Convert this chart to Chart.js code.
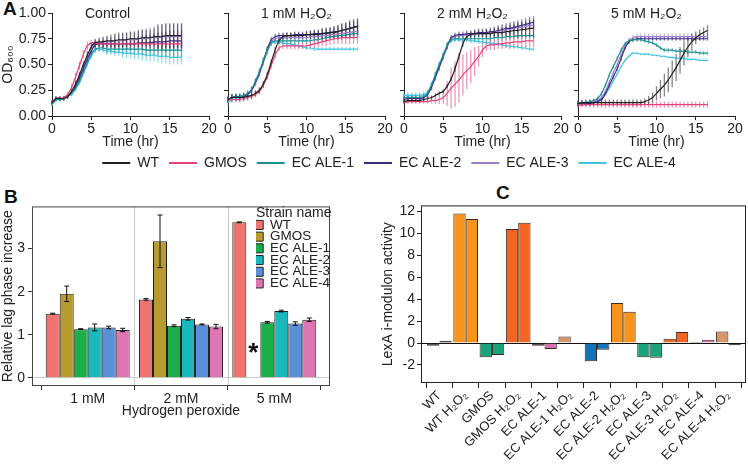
<!DOCTYPE html>
<html>
<head>
<meta charset="utf-8">
<script src="https://cdn.jsdelivr.net/npm/chart.js@4.4.1/dist/chart.umd.min.js"></script>
<style>
  body { margin: 0; background: #fff; }
  #fig { position: relative; width: 748px; height: 474px; overflow: hidden; background: #fff; font-family: "Liberation Sans", Arial, sans-serif; }
  #fig canvas { position: absolute; }
  .tag { position: absolute; font-weight: bold; font-size: 19px; color: #111; }
</style>
</head>
<body>
<div id="fig">
  <div class="tag" style="left:3px;top:-2px">A</div>
  <div class="tag" style="left:4px;top:186px">B</div>
  <div class="tag" style="left:496px;top:182px">C</div>
  <canvas id="a1" style="left:0px;top:0px" width="218" height="152"></canvas>
  <canvas id="a2" style="left:222px;top:0px" width="172" height="152"></canvas>
  <canvas id="a3" style="left:398px;top:0px" width="172" height="152"></canvas>
  <canvas id="a4" style="left:572px;top:0px" width="176" height="152"></canvas>
  <canvas id="aleg" style="left:30px;top:146px" width="718" height="70"></canvas>
  <canvas id="bchart" style="left:0px;top:195px" width="345" height="225"></canvas>
  <canvas id="cchart" style="left:380px;top:195px" width="368" height="279"></canvas>
  <canvas id="bleg" style="left:256px;top:206px" width="80" height="200"></canvas>
</div>
<script>
// ---------- panel A: growth curves (OD600 vs time) ----------
const strains = ['WT', 'GMOS', 'EC ALE-1', 'EC ALE-2', 'EC ALE-3', 'EC ALE-4'];
const strainColors = ['#231f20', '#e6427a', '#1b8f8f', '#3d2b82', '#9b7fcb', '#3ec3e3'];
const errColors = ['rgba(35,31,32,0.55)', 'rgba(230,66,122,0.55)', 'rgba(27,143,143,0.55)',
                   'rgba(61,43,130,0.55)', 'rgba(155,127,203,0.55)', 'rgba(62,195,227,0.55)'];

const hours = [0,0.5,1,1.5,2,2.5,3,3.5,4,4.5,5,5.5,6,6.5,7,7.5,8,8.5,9,9.5,10,10.5,11,11.5,12,12.5,13,13.5,14,14.5,15,15.5,16,16.5];

// Control
const ctrlWT     = [0.13,0.17,0.17,0.17,0.19,0.24,0.31,0.40,0.50,0.59,0.67,0.71,0.72,0.72,0.73,0.73,0.73,0.74,0.74,0.74,0.75,0.75,0.75,0.76,0.76,0.76,0.77,0.77,0.77,0.78,0.78,0.78,0.78,0.78];
const ctrlWTerr  = [0.02,0.02,0.02,0.02,0.02,0.02,0.03,0.03,0.03,0.04,0.04,0.04,0.04,0.05,0.05,0.06,0.07,0.07,0.07,0.07,0.07,0.07,0.08,0.08,0.08,0.08,0.08,0.12,0.12,0.12,0.12,0.12,0.12,0.12];
const ctrlGMOS   = [0.13,0.17,0.17,0.18,0.21,0.28,0.38,0.49,0.60,0.68,0.71,0.71,0.70,0.70,0.70,0.70,0.70,0.70,0.70,0.70,0.70,0.70,0.70,0.70,0.70,0.70,0.70,0.70,0.70,0.70,0.70,0.70,0.70,0.70];
const ctrlGMOSerr = [0.02,0.02,0.02,0.02,0.02,0.03,0.04,0.04,0.04,0.04,0.03,0.03,0.03,0.03,0.03,0.03,0.03,0.03,0.03,0.03,0.03,0.03,0.03,0.03,0.03,0.03,0.03,0.03,0.03,0.03,0.03,0.03,0.03,0.03];
const ctrlALE1   = [0.12,0.16,0.16,0.17,0.19,0.22,0.27,0.34,0.43,0.52,0.60,0.65,0.66,0.66,0.65,0.65,0.65,0.65,0.65,0.65,0.65,0.65,0.65,0.65,0.64,0.64,0.64,0.64,0.64,0.64,0.64,0.64,0.64,0.64];
const ctrlALE1err = [0.02,0.02,0.02,0.02,0.02,0.02,0.02,0.02,0.02,0.02,0.03,0.03,0.03,0.03,0.04,0.04,0.04,0.04,0.05,0.05,0.05,0.05,0.05,0.06,0.06,0.06,0.06,0.06,0.07,0.07,0.07,0.07,0.07,0.07];
const ctrlALE2   = [0.13,0.17,0.17,0.17,0.19,0.23,0.29,0.37,0.46,0.55,0.63,0.69,0.70,0.70,0.70,0.70,0.70,0.70,0.70,0.70,0.70,0.70,0.71,0.71,0.71,0.71,0.72,0.72,0.72,0.72,0.73,0.73,0.73,0.73];
const ctrlALE2err = [0.02,0.02,0.02,0.02,0.02,0.02,0.03,0.03,0.03,0.03,0.03,0.03,0.03,0.04,0.04,0.04,0.05,0.05,0.05,0.06,0.06,0.06,0.07,0.07,0.08,0.08,0.08,0.09,0.09,0.10,0.10,0.10,0.10,0.10];
const ctrlALE3   = [0.13,0.17,0.17,0.17,0.19,0.23,0.30,0.38,0.47,0.56,0.64,0.70,0.71,0.72,0.72,0.72,0.73,0.73,0.73,0.74,0.74,0.74,0.75,0.75,0.75,0.76,0.76,0.76,0.77,0.77,0.77,0.77,0.77,0.77];
const ctrlALE3err = [0.02,0.02,0.02,0.02,0.02,0.02,0.03,0.03,0.03,0.03,0.03,0.03,0.04,0.04,0.05,0.05,0.06,0.06,0.07,0.07,0.08,0.08,0.09,0.09,0.10,0.10,0.11,0.11,0.12,0.12,0.12,0.12,0.12,0.12];
const ctrlALE4   = [0.11,0.15,0.16,0.17,0.19,0.21,0.26,0.32,0.41,0.50,0.58,0.64,0.65,0.64,0.63,0.63,0.62,0.62,0.61,0.61,0.61,0.60,0.60,0.60,0.59,0.59,0.59,0.58,0.58,0.58,0.57,0.57,0.57,0.57];
const ctrlALE4err = [0.02,0.02,0.02,0.02,0.02,0.02,0.02,0.02,0.02,0.02,0.03,0.03,0.03,0.03,0.04,0.04,0.04,0.04,0.05,0.05,0.05,0.05,0.05,0.06,0.06,0.06,0.06,0.06,0.07,0.07,0.07,0.07,0.07,0.07];

// 1 mM H2O2
const mm1WT     = [0.16,0.18,0.18,0.18,0.18,0.19,0.20,0.22,0.25,0.31,0.40,0.52,0.64,0.73,0.77,0.78,0.78,0.78,0.78,0.78,0.79,0.79,0.79,0.79,0.80,0.80,0.81,0.81,0.82,0.83,0.84,0.85,0.86,0.87];
const mm1WTerr  = [0.03,0.03,0.03,0.03,0.03,0.03,0.03,0.03,0.03,0.03,0.03,0.03,0.03,0.03,0.03,0.03,0.03,0.03,0.03,0.03,0.03,0.04,0.04,0.04,0.05,0.05,0.05,0.06,0.06,0.07,0.07,0.08,0.08,0.08];
const mm1GMOS   = [0.15,0.16,0.16,0.16,0.17,0.18,0.19,0.21,0.24,0.30,0.38,0.49,0.59,0.66,0.68,0.68,0.68,0.68,0.68,0.68,0.68,0.69,0.70,0.71,0.72,0.73,0.74,0.75,0.75,0.76,0.76,0.76,0.76,0.76];
const mm1GMOSerr = [0.03,0.03,0.03,0.03,0.03,0.03,0.03,0.03,0.03,0.03,0.03,0.03,0.03,0.03,0.03,0.03,0.03,0.03,0.03,0.03,0.03,0.03,0.04,0.04,0.04,0.05,0.05,0.05,0.05,0.06,0.06,0.06,0.06,0.06];
const mm1ALE1   = [0.16,0.18,0.19,0.19,0.20,0.22,0.26,0.34,0.43,0.54,0.64,0.71,0.73,0.73,0.73,0.73,0.73,0.73,0.73,0.73,0.73,0.73,0.74,0.74,0.75,0.76,0.77,0.77,0.78,0.78,0.79,0.79,0.80,0.80];
const mm1ALE1err = [0.03,0.03,0.03,0.03,0.03,0.03,0.03,0.03,0.03,0.03,0.03,0.03,0.03,0.03,0.03,0.03,0.03,0.03,0.03,0.03,0.03,0.03,0.03,0.03,0.03,0.03,0.03,0.03,0.03,0.03,0.03,0.03,0.03,0.03];
const mm1ALE2   = [0.16,0.18,0.18,0.18,0.19,0.21,0.25,0.33,0.42,0.53,0.65,0.74,0.77,0.78,0.78,0.78,0.78,0.79,0.79,0.79,0.79,0.79,0.80,0.80,0.80,0.81,0.81,0.82,0.82,0.83,0.84,0.85,0.86,0.87];
const mm1ALE2err = [0.03,0.03,0.03,0.03,0.03,0.03,0.03,0.03,0.03,0.03,0.03,0.03,0.03,0.03,0.03,0.03,0.03,0.03,0.03,0.03,0.04,0.04,0.04,0.04,0.05,0.05,0.05,0.05,0.06,0.06,0.06,0.06,0.06,0.06];
const mm1ALE3   = [0.16,0.18,0.18,0.18,0.19,0.21,0.25,0.32,0.41,0.52,0.63,0.72,0.75,0.76,0.76,0.76,0.76,0.76,0.76,0.76,0.76,0.77,0.77,0.77,0.78,0.78,0.79,0.79,0.80,0.80,0.81,0.81,0.82,0.82];
const mm1ALE3err = [0.03,0.03,0.03,0.03,0.03,0.03,0.03,0.03,0.03,0.03,0.03,0.03,0.03,0.03,0.03,0.03,0.03,0.03,0.03,0.03,0.04,0.04,0.04,0.04,0.05,0.05,0.05,0.05,0.06,0.06,0.06,0.06,0.06,0.06];
const mm1ALE4   = [0.13,0.16,0.17,0.18,0.19,0.21,0.25,0.32,0.41,0.52,0.62,0.70,0.72,0.72,0.71,0.70,0.70,0.69,0.68,0.67,0.66,0.66,0.65,0.65,0.65,0.65,0.65,0.65,0.65,0.65,0.65,0.65,0.65,0.65];
const mm1ALE4err = [0.03,0.03,0.03,0.03,0.02,0.02,0.02,0.02,0.02,0.02,0.02,0.02,0.02,0.02,0.02,0.02,0.02,0.02,0.02,0.02,0.02,0.02,0.02,0.02,0.02,0.02,0.02,0.02,0.02,0.02,0.02,0.02,0.02,0.02];

// 2 mM H2O2
const mm2WT     = [0.14,0.15,0.15,0.15,0.15,0.16,0.17,0.18,0.20,0.22,0.24,0.29,0.36,0.46,0.58,0.70,0.77,0.79,0.80,0.80,0.80,0.80,0.80,0.81,0.81,0.81,0.82,0.82,0.83,0.83,0.84,0.84,0.85,0.85];
const mm2WTerr  = [0.02,0.02,0.02,0.02,0.02,0.02,0.02,0.02,0.02,0.02,0.02,0.02,0.02,0.03,0.03,0.03,0.03,0.03,0.03,0.03,0.03,0.04,0.04,0.04,0.05,0.05,0.05,0.06,0.06,0.07,0.07,0.07,0.08,0.08];
const mm2GMOS   = [0.13,0.14,0.14,0.14,0.14,0.14,0.14,0.15,0.15,0.16,0.18,0.22,0.27,0.31,0.35,0.40,0.44,0.48,0.53,0.58,0.64,0.68,0.69,0.69,0.70,0.70,0.71,0.71,0.72,0.72,0.72,0.73,0.73,0.73];
const mm2GMOSerr = [0.02,0.02,0.02,0.02,0.02,0.02,0.02,0.03,0.03,0.04,0.06,0.12,0.20,0.22,0.22,0.20,0.18,0.16,0.14,0.10,0.07,0.05,0.05,0.05,0.05,0.05,0.05,0.06,0.06,0.06,0.06,0.06,0.06,0.06];
const mm2ALE1   = [0.18,0.18,0.18,0.18,0.18,0.19,0.22,0.30,0.40,0.50,0.59,0.69,0.74,0.75,0.75,0.75,0.75,0.75,0.75,0.75,0.75,0.75,0.75,0.76,0.76,0.76,0.77,0.77,0.77,0.78,0.78,0.78,0.78,0.78];
const mm2ALE1err = [0.03,0.03,0.03,0.03,0.03,0.03,0.03,0.03,0.03,0.03,0.03,0.03,0.03,0.03,0.03,0.03,0.03,0.03,0.03,0.03,0.03,0.03,0.03,0.03,0.03,0.03,0.03,0.03,0.03,0.03,0.03,0.03,0.03,0.03];
const mm2ALE2   = [0.16,0.17,0.17,0.17,0.17,0.18,0.21,0.28,0.38,0.48,0.58,0.68,0.76,0.78,0.79,0.79,0.80,0.80,0.80,0.81,0.81,0.81,0.82,0.82,0.83,0.84,0.85,0.85,0.86,0.87,0.88,0.89,0.90,0.91];
const mm2ALE2err = [0.03,0.03,0.03,0.03,0.03,0.03,0.03,0.03,0.03,0.03,0.03,0.03,0.03,0.03,0.03,0.03,0.03,0.03,0.04,0.04,0.04,0.04,0.04,0.05,0.05,0.05,0.05,0.06,0.06,0.06,0.06,0.06,0.06,0.06];
const mm2ALE3   = [0.16,0.17,0.17,0.17,0.17,0.18,0.21,0.28,0.37,0.47,0.57,0.67,0.75,0.77,0.78,0.78,0.79,0.79,0.79,0.80,0.80,0.80,0.81,0.81,0.82,0.83,0.83,0.84,0.85,0.86,0.86,0.87,0.88,0.88];
const mm2ALE3err = [0.03,0.03,0.03,0.03,0.03,0.03,0.03,0.03,0.03,0.03,0.03,0.03,0.03,0.03,0.03,0.03,0.03,0.03,0.04,0.04,0.04,0.04,0.04,0.05,0.05,0.05,0.05,0.06,0.06,0.06,0.06,0.06,0.06,0.06];
const mm2ALE4   = [0.20,0.20,0.20,0.20,0.20,0.21,0.23,0.30,0.40,0.50,0.59,0.68,0.73,0.74,0.74,0.74,0.74,0.73,0.73,0.72,0.72,0.71,0.71,0.70,0.70,0.69,0.68,0.68,0.67,0.67,0.66,0.66,0.65,0.65];
const mm2ALE4err = [0.03,0.03,0.03,0.03,0.03,0.03,0.03,0.03,0.03,0.03,0.02,0.02,0.02,0.02,0.02,0.02,0.02,0.02,0.02,0.02,0.02,0.02,0.02,0.02,0.02,0.02,0.02,0.02,0.02,0.02,0.02,0.02,0.02,0.02];

// 5 mM H2O2
const mm5WT     = [0.12,0.13,0.13,0.13,0.13,0.13,0.13,0.13,0.13,0.13,0.13,0.13,0.13,0.13,0.13,0.13,0.13,0.14,0.155,0.18,0.22,0.26,0.30,0.35,0.41,0.47,0.54,0.61,0.67,0.72,0.76,0.79,0.81,0.83];
const mm5WTerr  = [0.03,0.03,0.03,0.03,0.03,0.03,0.03,0.03,0.03,0.03,0.03,0.03,0.03,0.03,0.03,0.03,0.03,0.03,0.04,0.05,0.07,0.09,0.11,0.12,0.13,0.13,0.13,0.12,0.10,0.08,0.06,0.05,0.05,0.05];
const mm5GMOS   = [0.10,0.11,0.11,0.11,0.11,0.11,0.11,0.11,0.11,0.11,0.11,0.11,0.11,0.11,0.11,0.11,0.11,0.11,0.11,0.11,0.11,0.11,0.11,0.11,0.11,0.11,0.11,0.11,0.11,0.11,0.11,0.11,0.11,0.11];
const mm5GMOSerr = [0.03,0.03,0.03,0.03,0.03,0.03,0.03,0.03,0.03,0.03,0.03,0.03,0.03,0.03,0.03,0.03,0.03,0.03,0.03,0.03,0.03,0.03,0.03,0.03,0.03,0.03,0.03,0.03,0.03,0.03,0.03,0.03,0.03,0.03];
const mm5ALE1   = [0.13,0.13,0.13,0.14,0.15,0.17,0.22,0.30,0.40,0.48,0.56,0.64,0.70,0.73,0.74,0.74,0.74,0.73,0.72,0.71,0.69,0.66,0.64,0.64,0.64,0.63,0.63,0.63,0.62,0.62,0.62,0.61,0.61,0.61];
const mm5ALE1err = [0.02,0.02,0.02,0.02,0.02,0.02,0.02,0.02,0.02,0.02,0.02,0.02,0.02,0.02,0.02,0.02,0.02,0.02,0.02,0.02,0.02,0.02,0.02,0.02,0.02,0.02,0.02,0.02,0.02,0.02,0.02,0.02,0.02,0.02];
const mm5ALE2   = [0.12,0.12,0.12,0.12,0.13,0.14,0.16,0.22,0.30,0.38,0.46,0.56,0.66,0.72,0.74,0.75,0.75,0.75,0.75,0.75,0.75,0.75,0.75,0.75,0.75,0.75,0.75,0.75,0.75,0.75,0.75,0.75,0.75,0.75];
const mm5ALE2err = [0.02,0.02,0.02,0.02,0.02,0.02,0.02,0.02,0.02,0.02,0.02,0.02,0.02,0.02,0.02,0.02,0.02,0.02,0.02,0.02,0.02,0.02,0.02,0.02,0.02,0.02,0.02,0.02,0.02,0.02,0.02,0.02,0.02,0.02];
const mm5ALE3   = [0.12,0.12,0.12,0.13,0.14,0.15,0.18,0.24,0.33,0.42,0.50,0.60,0.68,0.73,0.76,0.77,0.77,0.77,0.77,0.77,0.77,0.77,0.77,0.77,0.77,0.77,0.77,0.77,0.77,0.77,0.77,0.77,0.77,0.77];
const mm5ALE3err = [0.02,0.02,0.02,0.02,0.02,0.02,0.02,0.02,0.02,0.02,0.03,0.03,0.03,0.03,0.03,0.03,0.03,0.03,0.03,0.03,0.03,0.03,0.03,0.03,0.03,0.03,0.03,0.03,0.03,0.03,0.03,0.03,0.03,0.03];
const mm5ALE4   = [0.12,0.12,0.12,0.13,0.14,0.15,0.17,0.21,0.27,0.34,0.41,0.48,0.54,0.58,0.61,0.61,0.60,0.60,0.60,0.59,0.59,0.58,0.58,0.57,0.57,0.56,0.56,0.56,0.55,0.55,0.55,0.54,0.54,0.54];
const mm5ALE4err = [0.01,0.01,0.01,0.01,0.01,0.01,0.01,0.01,0.01,0.01,0.01,0.01,0.01,0.01,0.01,0.01,0.01,0.01,0.01,0.01,0.01,0.01,0.01,0.01,0.01,0.01,0.01,0.01,0.01,0.01,0.01,0.01,0.01,0.01];

// ---------- panel B: relative lag phase increase ----------
const doses = ['1 mM', '2 mM', '5 mM'];
const lagWT    = [1.49, 1.82, 3.61];
const lagGMOS  = [1.95, 3.17, 0];
const lagALE1  = [1.13, 1.21, 1.29];
const lagALE2  = [1.17, 1.37, 1.55];
const lagALE3  = [1.17, 1.24, 1.26];
const lagALE4  = [1.11, 1.19, 1.35];
const lagErrWT   = [0.01, 0.02, 0.01];
const lagErrGMOS = [0.18, 0.61, 0];
const lagErrALE1 = [0.01, 0.02, 0.02];
const lagErrALE2 = [0.08, 0.03, 0.02];
const lagErrALE3 = [0.03, 0.01, 0.04];
const lagErrALE4 = [0.04, 0.05, 0.04];
const lagColors = ['#ee7471', '#b89b2e', '#1bae4b', '#19b8bd', '#5a8fd8', '#de76b4'];

// ---------- panel C: LexA i-modulon activity ----------
const samples = ['WT', 'WT H₂O₂', 'GMOS', 'GMOS H₂O₂', 'EC ALE-1', 'EC ALE-1 H₂O₂',
                 'EC ALE-2', 'EC ALE-2 H₂O₂', 'EC ALE-3', 'EC ALE-3 H₂O₂', 'EC ALE-4', 'EC ALE-4 H₂O₂'];
const lexaRep1 = [-0.25, 11.8, -1.3, 10.4, -0.25, 0.6, -1.65, 3.65, -1.3, 0.4, 0.1, 1.05];
const lexaRep2 = [0.2, 11.3, -1.1, 10.95, -0.55, 0.02, -0.6, 2.85, -1.35, 1.0, 0.3, -0.2];
const lexaColors1 = ['#1f3d48', '#f7941d', '#1aa37a', '#f26522', '#3a2a3a', '#d4956a',
                     '#1672b8', '#f7941d', '#1aa37a', '#f26522', '#111111', '#d4956a'];
const lexaColors2 = ['#111111', '#f7941d', '#1aa37a', '#f26522', '#d86fb2', '#d4956a',
                     '#1672b8', '#f7941d', '#1aa37a', '#f26522', '#d86fb2', '#111111'];

const FONT = '"Liberation Sans", Arial, sans-serif';
Chart.defaults.font.family = FONT;
Chart.defaults.color = '#222';
Chart.defaults.animation = false;

// vertical error bars for the growth curves
const curveErrors = {
  id: 'curveErrors',
  beforeDatasetsDraw(chart) {
    const { ctx, scales: { x, y } } = chart;
    ctx.save();
    for (let i = chart.data.datasets.length - 1; i >= 0; i--) {
      const ds = chart.data.datasets[i];
      ctx.strokeStyle = ds.errColor;
      ctx.lineWidth = 1.3;
      ds.data.forEach((p, j) => {
        const px = x.getPixelForValue(p.x);
        ctx.beginPath();
        ctx.moveTo(px, y.getPixelForValue(p.y - ds.err[j]));
        ctx.lineTo(px, y.getPixelForValue(p.y + ds.err[j]));
        ctx.stroke();
      });
    }
    ctx.restore();
  }
};

// panel title drawn at the top of the plot
const panelTitle = {
  id: 'panelTitle',
  afterDraw(chart, args, opts) {
    const { ctx, chartArea } = chart;
    ctx.save();
    ctx.font = '14px ' + FONT;
    ctx.fillStyle = '#222';
    ctx.textBaseline = 'middle';
    ctx.fillText(opts.text, chartArea.left + 33, chartArea.top + 1);
    ctx.restore();
  }
};

function makeCurves(id, title, series, errs, first, padRight) {
  const datasets = series.map((vals, i) => ({
    label: strains[i],
    data: hours.map((h, j) => ({ x: h, y: vals[j] })),
    err: errs[i],
    errColor: errColors[i],
    borderColor: strainColors[i],
    borderWidth: 1.2,
    pointRadius: 0,
    tension: 0.2,
    fill: false
  }));
  return new Chart(document.getElementById(id), {
    type: 'line',
    data: { datasets },
    plugins: [curveErrors, panelTitle],
    options: {
      responsive: false,
      layout: { padding: { top: 13, right: padRight, left: 0, bottom: 0 } },
      scales: {
        x: {
          type: 'linear', min: 0, max: 20,
          afterFit: s => { s.height = 36; },
          ticks: { stepSize: 5, font: { size: 14 }, padding: 1, color: '#222' },
          grid: { drawOnChartArea: false, tickLength: 4, color: '#222' },
          border: { color: '#222', width: 1 },
          title: { display: true, text: 'Time (hr)', font: { size: 14 }, padding: { top: 0, bottom: 1 }, color: '#222' }
        },
        y: {
          min: 0, max: 1,
          afterFit: s => { s.width = first ? 52 : 6; },
          ticks: { stepSize: 0.25, display: first, font: { size: 14 }, padding: 2, color: '#222',
                   callback: v => v.toFixed(2) },
          grid: { drawOnChartArea: false, tickLength: 4, color: '#222' },
          border: { color: '#222', width: 1 },
          title: { display: first, text: 'OD₆₀₀', font: { size: 14 }, padding: 0, color: '#222' }
        }
      },
      plugins: {
        legend: { display: false },
        tooltip: { enabled: false },
        panelTitle: { text: title }
      }
    }
  });
}

makeCurves('a1', 'Control',
  [ctrlWT, ctrlGMOS, ctrlALE1, ctrlALE2, ctrlALE3, ctrlALE4],
  [ctrlWTerr, ctrlGMOSerr, ctrlALE1err, ctrlALE2err, ctrlALE3err, ctrlALE4err], true, 9);
makeCurves('a2', '1 mM H₂O₂',
  [mm1WT, mm1GMOS, mm1ALE1, mm1ALE2, mm1ALE3, mm1ALE4],
  [mm1WTerr, mm1GMOSerr, mm1ALE1err, mm1ALE2err, mm1ALE3err, mm1ALE4err], false, 9);
makeCurves('a3', '2 mM H₂O₂',
  [mm2WT, mm2GMOS, mm2ALE1, mm2ALE2, mm2ALE3, mm2ALE4],
  [mm2WTerr, mm2GMOSerr, mm2ALE1err, mm2ALE2err, mm2ALE3err, mm2ALE4err], false, 9);
makeCurves('a4', '5 mM H₂O₂',
  [mm5WT, mm5GMOS, mm5ALE1, mm5ALE2, mm5ALE3, mm5ALE4],
  [mm5WTerr, mm5GMOSerr, mm5ALE1err, mm5ALE2err, mm5ALE3err, mm5ALE4err], false, 13);

// shared legend for panel A (canvas kept twice the legend height so it is not squeezed)
new Chart(document.getElementById('aleg'), {
  type: 'line',
  data: { datasets: strains.map((s, i) => ({ label: s, data: [], borderColor: strainColors[i], borderWidth: 2, pointStyle: 'line' })) },
  options: {
    responsive: false,
    layout: { padding: 0 },
    scales: { x: { display: false }, y: { display: false } },
    plugins: {
      tooltip: { enabled: false },
      legend: {
        position: 'top',
        labels: { usePointStyle: true, pointStyleWidth: 28, boxHeight: 2, padding: 10, font: { size: 14 }, color: '#222' }
      }
    }
  }
});

// ---------- panel B ----------
const lagSets = [lagWT, lagGMOS, lagALE1, lagALE2, lagALE3, lagALE4];
const lagErrs = [lagErrWT, lagErrGMOS, lagErrALE1, lagErrALE2, lagErrALE3, lagErrALE4];

const facetLines = {
  id: 'facetLines',
  beforeDatasetsDraw(chart) {
    const { ctx, chartArea: a, scales: { x } } = chart;
    ctx.save();
    ctx.strokeStyle = '#c8c8c8';
    ctx.lineWidth = 1;
    [1.5, 2.5].forEach(v => {
      const px = Math.round(x.getPixelForValue(v)) + 0.5;
      ctx.beginPath();
      ctx.moveTo(px, a.top);
      ctx.lineTo(px, a.bottom);
      ctx.stroke();
    });
    ctx.restore();
  }
};

const barErrors = {
  id: 'barErrors',
  afterDatasetsDraw(chart) {
    const { ctx, scales: { y } } = chart;
    ctx.save();
    ctx.strokeStyle = '#111';
    ctx.lineWidth = 1;
    chart.data.datasets.forEach((ds, i) => {
      const meta = chart.getDatasetMeta(i);
      meta.data.forEach((bar, j) => {
        const e = ds.err[j];
        if (!e) return;
        const v = ds.data[j].y;
        const x = bar.x, y1 = y.getPixelForValue(v - e), y2 = y.getPixelForValue(v + e);
        ctx.beginPath();
        ctx.moveTo(x, y1); ctx.lineTo(x, y2);
        ctx.moveTo(x - 2.5, y1); ctx.lineTo(x + 2.5, y1);
        ctx.moveTo(x - 2.5, y2); ctx.lineTo(x + 2.5, y2);
        ctx.stroke();
      });
    });
    // asterisk for GMOS at 5 mM (no growth)
    const gm = chart.getDatasetMeta(1).data[2];
    ctx.fillStyle = '#111';
    ctx.font = 'bold 26px ' + FONT;
    ctx.textAlign = 'center';
    ctx.textBaseline = 'middle';
    ctx.fillText('*', gm.x, y.getPixelForValue(0.55));
    const a = chart.chartArea;
    ctx.strokeStyle = '#444';
    ctx.strokeRect(a.left + 0.5, a.top + 0.5, a.width - 1, a.height - 1);
    ctx.restore();
  }
};

new Chart(document.getElementById('bchart'), {
  type: 'bar',
  data: {
    datasets: lagSets.map((vals, i) => ({
      label: strains[i],
      data: vals.map((v, j) => ({ x: j + 1, y: v })),
      err: lagErrs[i],
      backgroundColor: lagColors[i],
      borderColor: '#222',
      borderWidth: 1,
      categoryPercentage: 0.9,
      barPercentage: 1.0
    }))
  },
  plugins: [facetLines, barErrors],
  options: {
    responsive: false,
    layout: { padding: { top: 9, right: 15, left: 0, bottom: 0 } },
    scales: {
      x: {
        type: 'linear', min: 0.403, max: 3.597, offset: false,
        afterBuildTicks: s => { s.ticks = [1, 2, 3].map(v => ({ value: v })); },
        afterFit: s => { s.height = 34; },
        ticks: { font: { size: 14 }, padding: 1, color: '#222', autoSkip: false, maxRotation: 0,
                 callback: v => doses[v - 1] },
        grid: { drawOnChartArea: false, tickLength: 4, color: '#333' },
        border: { display: false },
        title: { display: true, text: 'Hydrogen peroxide', font: { size: 14 }, padding: 0, color: '#222' }
      },
      y: {
        min: -0.19, max: 3.98,
        afterBuildTicks: s => { s.ticks = [0, 1, 2, 3].map(v => ({ value: v })); },
        afterFit: s => { s.width = 32; },
        ticks: { font: { size: 14 }, padding: 3, color: '#222' },
        grid: {
          drawOnChartArea: true, tickLength: 4,
          color: c => (c.tick && c.tick.value === 0 ? '#c8c8c8' : 'rgba(0,0,0,0)'),
          tickColor: '#333'
        },
        border: { display: false },
        title: { display: true, text: 'Relative lag phase increase', font: { size: 14 }, padding: 0, color: '#222' }
      }
    },
    plugins: { legend: { display: false }, tooltip: { enabled: false } }
  }
});

// legend of panel B, placed inside the plot (canvas twice the legend height)
new Chart(document.getElementById('bleg'), {
  type: 'bar',
  data: { datasets: strains.map((s, i) => ({ label: s, data: [], backgroundColor: lagColors[i], borderColor: '#222', borderWidth: 1 })) },
  options: {
    responsive: false,
    layout: { padding: 0 },
    scales: { x: { display: false }, y: { display: false } },
    plugins: {
      tooltip: { enabled: false },
      legend: {
        position: 'top', align: 'start',
        title: { display: true, text: 'Strain name', position: 'start', padding: 0, font: { size: 14, lineHeight: 1 }, color: '#222' },
        labels: { boxWidth: 9, boxHeight: 9, padding: -1.8, font: { size: 13.5 }, color: '#222' }
      }
    }
  }
});

// ---------- panel C ----------
const frame = {
  id: 'frame',
  afterDraw(chart) {
    const { ctx, chartArea: a } = chart;
    ctx.save();
    ctx.strokeStyle = '#222';
    ctx.lineWidth = 1;
    ctx.strokeRect(a.left + 0.5, a.top + 0.5, a.width - 1, a.height - 1);
    ctx.restore();
  }
};

new Chart(document.getElementById('cchart'), {
  type: 'bar',
  data: {
    datasets: [lexaRep1, lexaRep2].map((vals, k) => ({
      label: 'replicate ' + (k + 1),
      data: vals.map((v, j) => ({ x: j + 1, y: v })),
      backgroundColor: k === 0 ? lexaColors1 : lexaColors2,
      borderColor: '#3b2a1c',
      borderWidth: 1,
      categoryPercentage: 0.94,
      barPercentage: 1.0
    }))
  },
  plugins: [frame],
  options: {
    responsive: false,
    layout: { padding: { top: 9, right: 2, left: 0, bottom: 0 } },
    scales: {
      x: {
        type: 'linear', min: 0.3, max: 12.67, offset: false,
        afterBuildTicks: s => { s.ticks = samples.map((_, i) => ({ value: i + 1 })); },
        afterFit: s => { s.height = 91; },
        ticks: { font: { size: 13 }, padding: 0, color: '#222', autoSkip: false, minRotation: 45, maxRotation: 45,
                 callback: v => samples[v - 1] },
        grid: { drawOnChartArea: false, tickLength: 5, color: '#222' },
        border: { display: false }
      },
      y: {
        min: -3.64, max: 12.54,
        afterBuildTicks: s => { s.ticks = [-2, 0, 2, 4, 6, 8, 10, 12].map(v => ({ value: v })); },
        afterFit: s => { s.width = 41; },
        ticks: { font: { size: 14 }, padding: 2, color: '#222' },
        grid: {
          drawOnChartArea: true, tickLength: 4,
          color: c => (c.tick && c.tick.value === 0 ? '#111' : 'rgba(0,0,0,0)'),
          tickColor: '#222'
        },
        border: { display: false },
        title: { display: true, text: 'LexA i-modulon activity', font: { size: 14 }, padding: 0, color: '#222' }
      }
    },
    plugins: { legend: { display: false }, tooltip: { enabled: false } }
  }
});
</script>
</body>
</html>
